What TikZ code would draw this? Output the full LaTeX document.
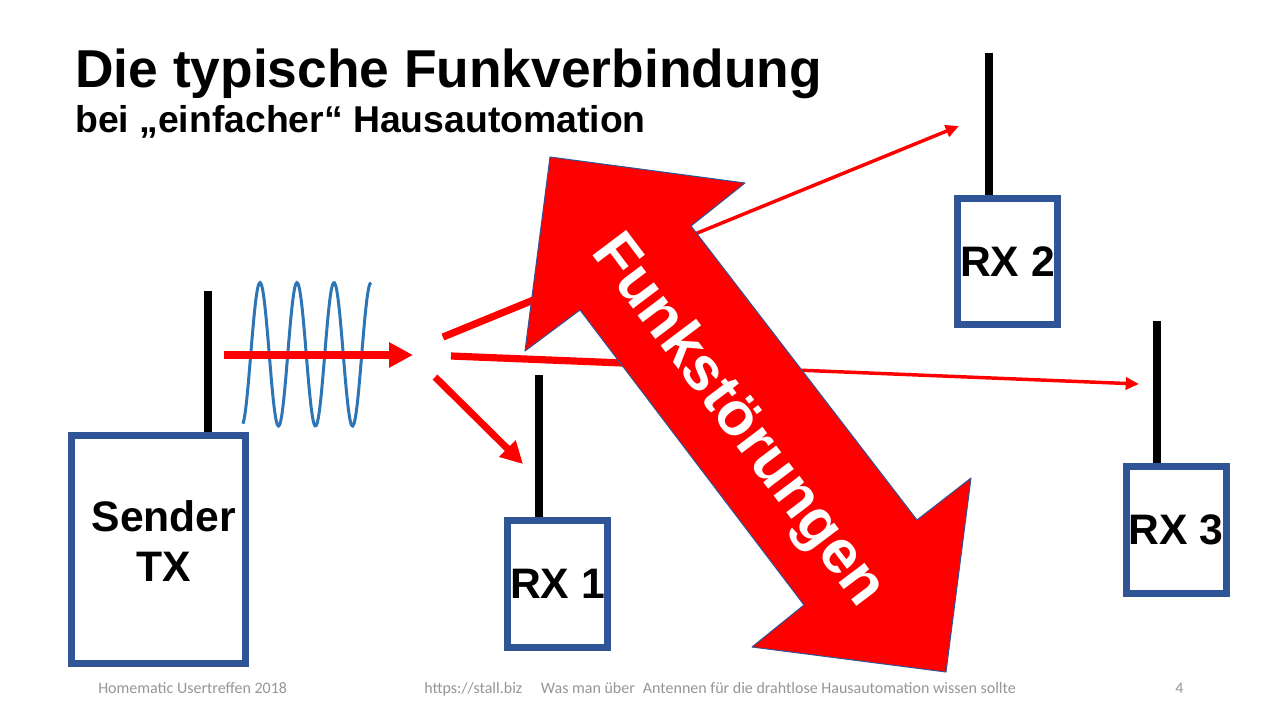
\documentclass[tikz,border=0pt]{standalone}
\usepackage{fontspec}
\setmainfont{Liberation Sans}
\newfontfamily\footfont{Carlito}
\usepackage{tikz}
\usetikzlibrary{arrows.meta, calc}
\definecolor{boxblue}{RGB}{47,85,151}
\definecolor{waveblue}{RGB}{46,117,182}
\definecolor{footgray}{RGB}{150,150,150}
\tikzset{
  box/.style={draw=boxblue, line width=5.25pt, minimum width=75pt, minimum height=95pt, inner sep=0pt, font=\fontsize{32}{37.5}\selectfont\bfseries},
  antenna/.style={line width=6pt},
  ray/.style={red, line width=2.6pt, -{Triangle[length=10pt,width=9pt]}},
  rayroot/.style={red, line width=5.4pt},
  foot/.style={anchor=base west, inner sep=0pt, text=footgray, font=\footfont\fontsize{12}{14}\selectfont},
}

\begin{document}
\begin{tikzpicture}[x=0.75pt, y=-0.75pt]
\useasboundingbox (0,0) rectangle (1280,720);
\fill[white] (0,0) rectangle (1280,720);

\node[anchor=base west, inner sep=0pt, font=\fontsize{40}{48}\selectfont\bfseries] (title) at (75,88) {Die typische Funkverbindung};
\node[anchor=base west, inner sep=0pt, font=\fontsize{28}{34}\selectfont\bfseries] (subtitle) at (75,133) {bei „einfacher“ Hausautomation};

\node[box, minimum width=130.5pt, minimum height=171pt] (tx) at (158.5,549.5) {};
\node[align=center, font=\fontsize{32}{37.5}\selectfont\bfseries] (txlabel) at (164,541) {Sender\\TX};
\node[box] (rx1) at (557.5,584) {RX 1};
\node[box] (rx2) at (1007.5,261.5) {RX 2};
\node[box] (rx3) at (1176,530) {RX 3};

\draw[antenna] ([xshift=37.1pt]tx.north) -- ++(0,-141);
\foreach \r in {rx1,rx2,rx3}
  \draw[antenna] ([xshift=-13.9pt]\r.north) -- ++(0,-142);

\draw[waveblue, line width=2.25pt] plot[domain=243:371, samples=120, smooth] (\x, {354.3-71.7*sin(((\x-250.75)/37)*360)});

\coordinate (w0) at (224,355);
\coordinate (w1) at (413,355);
\draw[red, line width=5.6pt, -{Triangle[length=18pt,width=18pt]}] (w0) -- (w1);

\coordinate (f1) at (435,377);
\coordinate (e1) at (523,464);
\coordinate (f2) at (443,337);
\coordinate (e2) at (959,126);
\coordinate (f3) at (451,356);
\coordinate (e3) at (1139,384);
\draw[red, line width=5.25pt, -{Triangle[length=16.5pt,width=16.5pt]}] (f1) -- (e1);
\draw[ray] (f2) -- (e2);
\draw[rayroot] (f2) -- ($(f2)!0.34!(e2)$);
\draw[ray] (f3) -- (e3);
\draw[rayroot] (f3) -- ($(f3)!0.36!(e3)$);

\draw[draw=boxblue, line width=0.75pt, line join=round, fill=red] (550,157) -- (745,183) -- (691,226) -- (917,520) -- (971,478) -- (946,672) -- (752,647) -- (804,605) -- (580,310) -- (525,351) -- cycle;
\node[anchor=base, rotate=-53, text=white, font=\fontsize{46}{54}\selectfont\bfseries] (noise) at (725,431) {Funkstörungen};

\node[foot] (event) at (98,693) {Homematic Usertreffen 2018};
\node[foot] (topic) at (424,693) {https://stall.biz\hspace{14pt}Was man über\hspace{6pt}Antennen für die drahtlose Hausautomation wissen sollte};
\node[foot] (page) at (1175,693) {4};
\end{tikzpicture}
\end{document}
